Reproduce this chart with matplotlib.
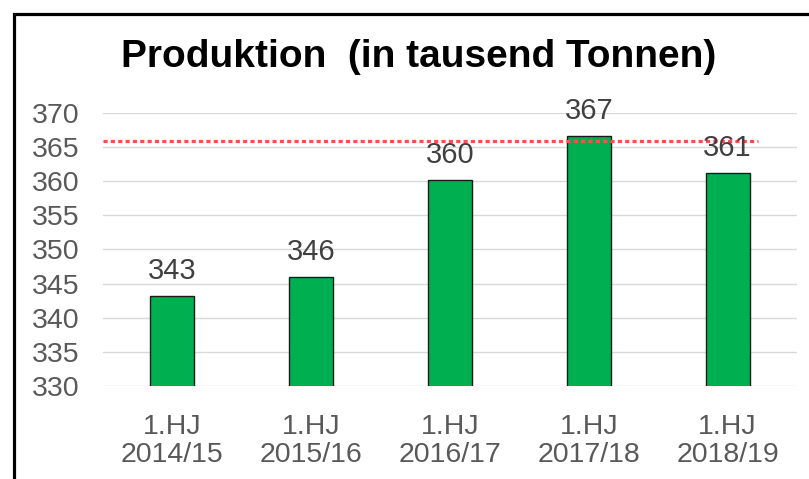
import matplotlib.pyplot as plt
from matplotlib.patches import Rectangle

plt.rcParams['font.family'] = ['Liberation Sans', 'DejaVu Sans']

# data
categories = ['1.HJ\n2014/15', '1.HJ\n2015/16', '1.HJ\n2016/17', '1.HJ\n2017/18', '1.HJ\n2018/19']
production = [343.2, 346.0, 360.2, 366.7, 361.2]
labels = ['343', '346', '360', '367', '361']
reference_level = 365.9
y_ticks = [330, 335, 340, 345, 350, 355, 360, 365, 370]

fig = plt.figure(figsize=(8.09, 4.79), dpi=100)
ax = fig.add_axes([0.1273, 0.1942, 0.8579, 0.5699])

x = list(range(len(categories)))
ax.bar(x, production, width=0.317, color='#00B050', edgecolor='#1a1a1a',
       linewidth=1.0, zorder=3)
ax.set_xlim(-0.5, len(categories) - 0.5)
ax.set_ylim(330, 370)
ax.set_yticks(y_ticks)
ax.set_xticks(x)
ax.set_xticklabels(categories, linespacing=1.12)

ax.grid(axis='y', color='#D9D9D9', linewidth=1.0, zorder=0)
for s in ax.spines.values():
    s.set_visible(False)
ax.tick_params(axis='both', length=0, labelsize=20.5, colors='#595959')
ax.tick_params(axis='y', pad=17)
ax.tick_params(axis='x', pad=20)

# red dotted reference line
ax.axhline(reference_level, xmin=0, xmax=0.944, color='#FF4D4D',
           linewidth=2.3, linestyle=(0, (1.3, 1.0)), zorder=4)

for xi, v, lab in zip(x, production, labels):
    ax.annotate(lab, (xi, v), xytext=(0, 12), textcoords='offset points',
                ha='center', va='baseline', fontsize=21, color='#404040', zorder=5)

fig.text(0.517, 0.881, 'Produktion  (in tausend Tonnen)', ha='center', va='center',
         fontsize=28, fontweight='bold', color='black')

# outer frame
fig.patches.append(Rectangle((0.0173, -0.1), 1.2, 1.0708, transform=fig.transFigure,
                             fill=False, edgecolor='black', linewidth=2.3))

fig.savefig('out.png', dpi=100)
